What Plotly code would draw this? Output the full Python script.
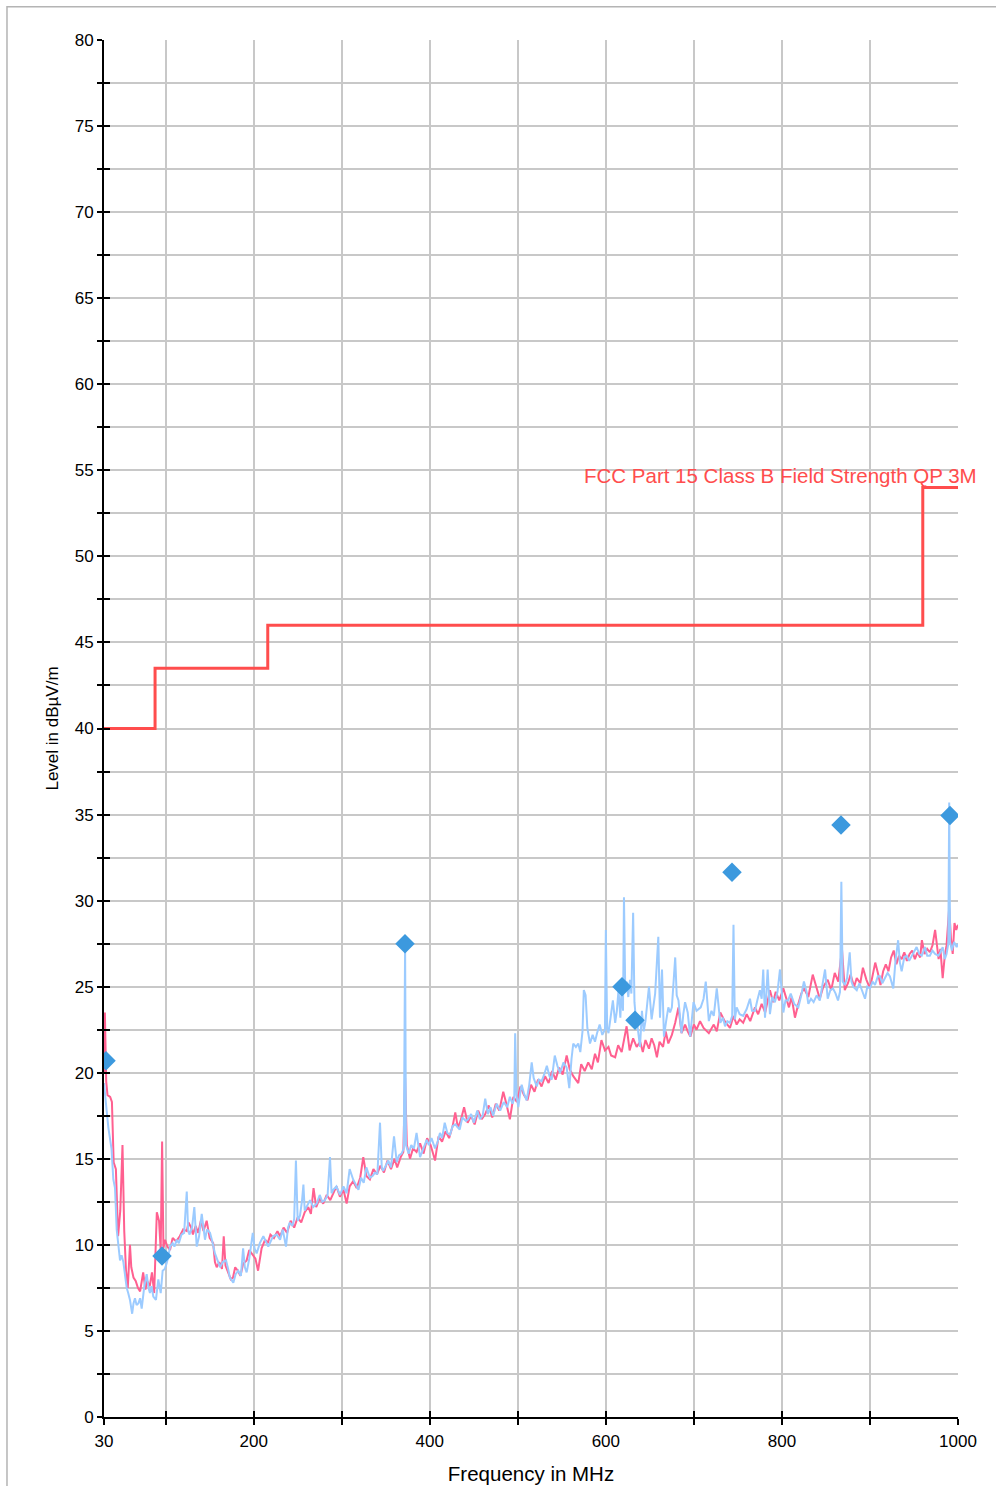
import plotly.graph_objects as go

# ---- measured emission traces (MHz, dBµV/m) ----
freq_h = [30, 31, 32.5, 34, 37, 39, 41, 43.5, 46, 48.5, 51, 53, 55, 57, 59.5, 61, 63.5, 66, 68.5, 71,
          74.5, 77, 79, 82, 84.5, 87, 90, 92.5, 94.4, 96, 97.5, 99.3, 102, 105, 108, 112, 116, 120, 124, 126,
          129, 131, 134, 137, 140, 143, 146.6, 150, 154, 156, 158, 161, 164, 166, 168, 171, 174, 176.5, 179, 182,
          185, 188, 192, 195, 198, 202, 205, 209, 213, 216, 219, 223, 227, 230, 234, 238, 242, 246, 250, 254,
          258, 262, 265, 268, 271, 275, 279, 283, 287, 291, 294, 298, 302, 305.6, 309, 313, 317, 321, 324.5, 328,
          332, 336, 340, 344, 348, 352, 356, 360, 363, 367, 370, 372, 374, 377.6, 381, 385, 389, 393, 397, 401,
          406, 410, 414, 418, 422, 426, 429, 432, 435, 439, 443, 447, 451, 455, 459, 463, 467, 471, 475, 479,
          483.5, 487, 491, 495, 499, 503, 507, 511, 515, 519, 523, 527, 531, 535, 539, 543, 547, 551, 555.5, 559,
          563, 568.7, 572, 576, 580, 584, 587.7, 591, 595, 599, 603, 606, 610.6, 614, 618, 623.6, 627, 631, 635, 639,
          642, 645, 649, 652, 655, 658, 661, 665, 668, 671, 675, 678.8, 682.5, 686, 690, 693, 696, 700, 703, 707,
          711, 717, 722.6, 726, 730, 735, 741, 745, 748.6, 752, 756, 760, 764, 769.4, 773, 777, 781, 786.4, 790, 793,
          797, 801.6, 805, 808, 811, 814.8, 818.6, 822, 825, 830, 835, 839.5, 843, 847, 852, 856, 860, 864, 868.2, 871.4,
          875, 878, 882, 885, 889, 892, 896, 900, 903, 906, 909, 912, 915, 918, 921, 924, 927, 930, 933, 936,
          939, 942, 945, 948, 951, 954, 957, 959, 962, 965, 968, 971, 974, 976, 978, 980, 982.6, 985, 987, 990,
          992, 994, 996, 998, 1000]
level_h = [20.0, 23.5, 19.5, 18.7, 18.6, 18.3, 14.8, 14.4, 10.5, 12.0, 15.8, 10.8, 8.5, 7.5, 10.0, 8.7, 8.1, 7.9, 7.5, 7.3,
           8.4, 7.4, 7.9, 7.6, 8.4, 7.2, 11.9, 11.4, 9.7, 16.0, 9.8, 10.3, 9.9, 9.7, 10.4, 10.2, 10.5, 10.9, 10.8, 11.3,
           11.0, 10.6, 11.1, 10.7, 11.4, 10.8, 11.4, 10.4, 10.1, 9.0, 8.7, 9.0, 8.6, 10.5, 8.8, 8.4, 8.0, 8.1, 8.7, 8.5,
           8.2, 8.9, 9.1, 9.7, 9.5, 9.2, 8.5, 9.8, 10.3, 10.1, 10.6, 10.4, 10.8, 10.5, 11.0, 10.7, 11.4, 11.0, 11.6, 11.3,
           11.9, 12.2, 11.8, 13.3, 12.2, 12.7, 12.4, 12.9, 12.6, 13.1, 13.4, 12.8, 13.2, 12.4, 13.4, 13.7, 13.3, 13.9, 15.1, 14.0,
           13.8, 14.4, 14.1, 14.6, 14.2, 14.9, 14.4, 15.0, 14.5, 15.1, 15.4, 19.7, 15.8, 15.0, 15.6, 15.4, 15.9, 15.3, 16.2, 15.8,
           14.9, 16.3, 16.0, 16.6, 16.2, 16.9, 17.7, 16.8, 17.2, 18.0, 17.1, 17.5, 17.0, 17.8, 17.3, 17.6, 18.1, 17.4, 18.2, 17.8,
           18.9, 18.2, 17.3, 18.6, 18.3, 19.2, 18.7, 18.4, 19.3, 18.9, 19.6, 19.2, 19.8, 19.4, 20.1, 19.6, 20.3, 19.9, 21.0, 20.2,
           19.8, 19.4, 20.5, 20.1, 20.6, 20.2, 21.1, 20.6, 21.9, 21.3, 21.5, 21.0, 20.9, 21.6, 21.2, 22.7, 21.3, 22.0, 21.5, 21.8,
           21.2, 21.9, 21.4, 22.0, 21.6, 20.9, 21.8, 21.5, 22.4, 21.7, 22.2, 22.9, 23.8, 22.3, 22.8, 22.4, 22.1, 22.8, 22.5, 23.0,
           22.6, 22.3, 22.8, 22.4, 23.5, 23.0, 22.6, 23.3, 22.8, 23.1, 22.9, 23.4, 23.0, 23.8, 23.4, 24.0, 23.5, 24.8, 24.1, 24.7,
           24.2, 24.9, 24.3, 23.8, 24.4, 23.2, 24.0, 24.6, 24.9, 24.4, 25.7, 24.9, 24.3, 25.0, 25.4, 24.8, 25.8, 25.3, 27.2, 24.8,
           25.2, 25.7, 25.0, 25.5, 25.2, 26.1, 25.4, 24.9, 25.7, 26.4, 25.8, 25.1, 25.9, 26.3, 25.9, 26.7, 27.1, 26.3, 26.8, 26.6,
           27.0, 26.5, 26.9, 27.1, 26.6, 27.0, 26.7, 27.7, 26.9, 27.2, 27.0, 27.4, 28.3, 27.5, 26.6, 27.2, 25.5, 26.8, 27.4, 29.6,
           27.8, 26.9, 28.7, 28.3, 28.6]

freq_v = [30, 31.5, 33, 35, 36.8, 38.5, 40.6, 42.5, 44.4, 46.5, 48.2, 50, 52, 54, 55.8, 57.5, 59.5, 62, 63.5, 65.2,
          67, 69, 71, 72.8, 74.5, 75.8, 78.5, 80.5, 82.2, 84, 86, 89, 91.7, 94.4, 96.6, 99, 101, 103, 105, 108,
          110, 112.6, 115, 118, 121, 124, 125.5, 127, 130, 132.6, 135.3, 138, 141, 144.7, 147, 150.4, 153, 156, 159, 161.8,
          165, 168.6, 171, 173, 176.9, 179.5, 182.5, 185.5, 188, 190, 192, 195, 199, 201, 203.4, 207, 211, 214, 216.6, 222,
          226, 230, 233, 236.7, 239, 241, 244, 246, 248, 250, 252.6, 255, 256.5, 258, 261, 264, 267.7, 271.6, 275, 278,
          281, 284, 286.7, 288.5, 290.4, 294, 298, 302, 305.6, 309, 313, 316, 319, 322, 325, 328, 332, 335, 337.8, 340.5,
          343.5, 345.5, 347, 350, 353, 356, 359.4, 362.5, 365, 368, 370.5, 372, 373, 376, 379, 382, 385, 389, 393, 396.5,
          399, 402, 406, 409, 411.6, 414, 417, 420, 423, 426, 429, 432, 434, 437, 441, 443.5, 447, 450, 454, 457,
          460, 463, 466, 469, 472, 476, 480, 484, 488, 491, 494, 496, 497, 498.5, 500.6, 503, 504.4, 507, 510, 513,
          515.8, 518, 521.5, 524, 527, 530, 533, 536, 538.5, 542, 545, 548, 552, 555.5, 558.5, 561, 563, 566, 568.7, 571,
          573.5, 575, 577, 579, 582, 585, 587.7, 590, 593, 596, 599, 600, 601.5, 603, 605, 608, 610.6, 612.5, 614.4, 616.5,
          618, 619.5, 620.6, 622, 623.6, 625.5, 627.4, 629, 631, 632.5, 634, 636, 638.8, 641, 643, 645, 647, 649, 652, 654,
          656, 659.6, 661.5, 663.8, 666, 668.5, 671, 673, 675, 678.8, 680.5, 682.5, 686, 688, 690, 693, 695.8, 699.6, 703, 707.8,
          711, 713.5, 717, 720, 722.6, 726, 730, 733, 735.4, 738, 741, 743.5, 745, 746.5, 748.6, 752, 756, 760, 763.7, 766,
          769.4, 772, 775, 777, 778.8, 780.8, 783.8, 786.4, 789, 792, 795, 797.8, 800, 801.6, 804, 807, 810, 814, 818.6, 822,
          825, 828, 830, 833, 836, 839.5, 843, 846, 849, 852, 855, 858, 861, 863.7, 866, 867.5, 869, 871.4, 874, 877,
          879, 881, 885, 888, 890.6, 894.4, 897, 900, 903, 905.7, 909, 911.4, 914, 917, 920, 922.7, 924.5, 926.5, 929, 932,
          934, 936, 939, 941.7, 944.5, 947.4, 950, 953, 956, 958.8, 962.5, 965, 968, 971, 974, 977.8, 980, 982.6, 985, 987,
          989, 990, 991, 993, 995.5, 998.5, 1000]
level_v = [19.4, 18.3, 17.8, 16.8, 16.1, 15.6, 13.8, 13.3, 10.9, 9.8, 9.1, 9.4, 9.0, 8.2, 7.5, 7.2, 6.8, 6.0, 6.6, 6.9,
           6.5, 6.6, 6.9, 6.3, 7.0, 7.6, 8.3, 7.5, 7.2, 7.6, 7.0, 6.8, 8.0, 7.2, 8.5, 8.6, 8.9, 9.3, 9.9, 10.1,
           9.9, 10.3, 10.1, 10.6, 10.7, 13.1, 10.9, 10.6, 11.0, 12.2, 9.9, 10.5, 11.8, 10.3, 10.9, 10.7, 10.2, 9.5, 9.1, 8.7,
           9.0, 9.1, 8.6, 8.1, 7.8, 8.3, 8.5, 8.2, 9.8, 8.7, 8.4, 9.2, 10.7, 9.8, 9.5, 10.1, 10.5, 10.2, 9.9, 10.5,
           10.6, 10.3, 10.9, 9.9, 11.0, 11.3, 11.1, 11.5, 14.9, 11.4, 11.7, 12.6, 13.5, 12.0, 12.3, 12.6, 12.2, 12.4, 12.9, 12.5,
           12.6, 12.9, 15.1, 13.0, 13.2, 13.4, 12.9, 13.4, 13.0, 14.4, 13.8, 13.5, 13.2, 13.9, 13.6, 14.5, 13.9, 14.0, 14.2, 14.1,
           17.1, 14.5, 14.3, 14.6, 14.9, 14.5, 16.3, 14.8, 15.2, 15.3, 15.6, 27.4, 15.8, 15.3, 15.8, 15.6, 16.5, 15.1, 15.7, 16.1,
           15.8, 16.2, 15.6, 16.0, 16.5, 16.2, 17.1, 16.5, 16.4, 16.9, 17.0, 16.8, 16.7, 17.4, 17.2, 17.3, 17.6, 17.1, 17.8, 17.3,
           17.5, 18.5, 17.6, 18.0, 17.5, 18.2, 17.8, 18.3, 18.0, 18.6, 18.2, 18.5, 22.3, 18.7, 18.0, 18.9, 19.3, 18.8, 18.4, 19.3,
           20.6, 19.7, 19.2, 19.6, 19.5, 19.9, 20.4, 19.8, 19.6, 21.0, 20.4, 20.0, 20.6, 20.3, 19.1, 20.8, 21.7, 21.5, 21.7, 21.2,
           22.4, 24.8, 24.5, 22.6, 21.7, 22.2, 21.8, 22.3, 22.8, 22.2, 22.5, 28.3, 22.6, 22.3, 23.0, 24.2, 22.9, 23.6, 24.8, 23.2,
           25.0, 23.6, 30.2, 25.0, 25.3, 24.4, 25.4, 24.6, 29.3, 24.1, 23.2, 22.7, 21.5, 23.6, 22.4, 23.0, 24.0, 25.0, 23.1, 23.8,
           24.6, 27.9, 23.2, 26.0, 22.1, 23.0, 23.8, 23.5, 23.8, 26.7, 24.5, 24.2, 22.3, 23.4, 24.1, 23.5, 22.1, 24.1, 23.6, 23.8,
           24.3, 25.3, 23.0, 23.6, 23.3, 24.9, 22.9, 23.2, 22.7, 23.0, 22.9, 23.3, 28.6, 23.1, 23.8, 23.4, 23.3, 23.7, 24.3, 23.6,
           23.6, 24.2, 24.8, 24.3, 26.0, 23.2, 26.0, 23.4, 24.4, 24.1, 24.7, 26.0, 24.5, 23.5, 24.2, 24.2, 24.6, 24.0, 23.8, 24.5,
           25.3, 24.7, 24.0, 24.3, 24.1, 24.5, 24.2, 25.1, 26.0, 24.3, 24.8, 24.9, 24.6, 24.2, 24.7, 31.1, 25.3, 25.1, 25.5, 27.0,
           25.3, 25.0, 24.8, 25.2, 24.8, 24.3, 25.0, 24.9, 25.3, 25.1, 25.6, 25.6, 25.2, 25.5, 25.8, 25.6, 25.2, 24.9, 26.5, 27.7,
           26.4, 25.9, 26.7, 26.8, 26.5, 26.8, 27.0, 27.3, 26.9, 26.8, 27.3, 26.8, 26.8, 27.1, 26.9, 26.8, 27.0, 27.3, 26.6, 26.9,
           27.5, 35.7, 27.6, 27.1, 27.6, 27.3, 27.5]

# ---- quasi-peak final measurements ----
qp_freq = [32.3, 95.9, 371.9, 618.4, 633.1, 743.3, 867.1, 990.9]
qp_level = [20.7, 9.35, 27.5, 25.0, 23.05, 31.65, 34.4, 34.95]

# ---- FCC Part 15 Class B limit (3 m) ----
limit_freq = [30, 88, 216, 960, 1000]
limit_level = [40, 43.5, 46, 54, 54]

x_ticks = [30, 100, 200, 300, 400, 500, 600, 700, 800, 900, 1000]
x_labels = ["30", "", "200", "", "400", "", "600", "", "800", "", "1000"]

FONT = "Liberation Sans, Arial, sans-serif"
GRID = "#c8c8c8"
LIMIT_RED = "#ff4d4d"

fig = go.Figure()

fig.add_trace(go.Scatter(x=limit_freq, y=limit_level, mode="lines", line_shape="hv",
                         line=dict(color=LIMIT_RED, width=3), hoverinfo="skip", showlegend=False))
fig.add_trace(go.Scatter(x=freq_h, y=level_h, mode="lines",
                         line=dict(color="#ff6090", width=2), showlegend=False))
fig.add_trace(go.Scatter(x=freq_v, y=level_v, mode="lines",
                         line=dict(color="#9ccbff", width=2), showlegend=False))
fig.add_trace(go.Scatter(x=qp_freq, y=qp_level, mode="markers",
                         marker=dict(symbol="diamond", size=15, color="#3c99de"), showlegend=False))
# helper trace for the overlay axes that carry the inner half of the ticks
fig.add_trace(go.Scatter(x=[30], y=[0], xaxis="x2", yaxis="y2", mode="markers",
                         marker=dict(opacity=0), hoverinfo="skip", showlegend=False))

fig.update_layout(
    width=996, height=1486,
    margin=dict(l=104, r=38, t=40, b=69, autoexpand=False),
    paper_bgcolor="white", plot_bgcolor="white",
    font=dict(family=FONT, color="black"),
    xaxis=dict(range=[30, 1000], tickmode="array", tickvals=x_ticks, ticktext=x_labels,
               showgrid=True, gridcolor=GRID, gridwidth=2, zeroline=False,
               showline=True, linecolor="black", linewidth=2, automargin=False,
               ticks="outside", ticklen=6, tickwidth=2, tickcolor="black", ticklabelstandoff=2,
               tickfont=dict(size=17), title=dict(text="Frequency in MHz", font=dict(size=20.5), standoff=16)),
    yaxis=dict(range=[0, 80], dtick=5, tick0=0,
               showgrid=True, gridcolor=GRID, gridwidth=2, zeroline=False,
               showline=True, linecolor="black", linewidth=2, automargin=False,
               ticks="outside", ticklen=5, tickwidth=2, tickcolor="black",
               minor=dict(dtick=2.5, ticks="outside", ticklen=5, tickwidth=2, tickcolor="black",
                          showgrid=True, gridcolor=GRID, gridwidth=2),
               tickfont=dict(size=17), title=dict(text="Level in dBµV/m", font=dict(size=17), standoff=12)),
    xaxis2=dict(overlaying="x", range=[30, 1000], tickmode="array", tickvals=x_ticks,
                showticklabels=False, showgrid=False, zeroline=False, showline=False,
                ticks="inside", ticklen=6, tickwidth=2, tickcolor="black", side="bottom"),
    yaxis2=dict(overlaying="y", range=[0, 80], dtick=2.5, tick0=0,
                showticklabels=False, showgrid=False, zeroline=False, showline=False,
                ticks="inside", ticklen=6, tickwidth=2, tickcolor="black", side="left"),
    annotations=[dict(text="FCC Part 15 Class B Field Strength QP 3M", xref="paper", yref="y",
                      x=1.0246, y=54.7, xanchor="right", yanchor="middle", showarrow=False,
                      font=dict(size=20.5, color=LIMIT_RED, family=FONT))],
    shapes=[dict(type="rect", xref="paper", yref="paper", x0=-0.1136, x1=1.06, y0=-0.06, y1=1.0241,
                 line=dict(color="#b4b4b4", width=1.5), fillcolor="rgba(0,0,0,0)", layer="below")],
)

fig.write_html("out.html")
